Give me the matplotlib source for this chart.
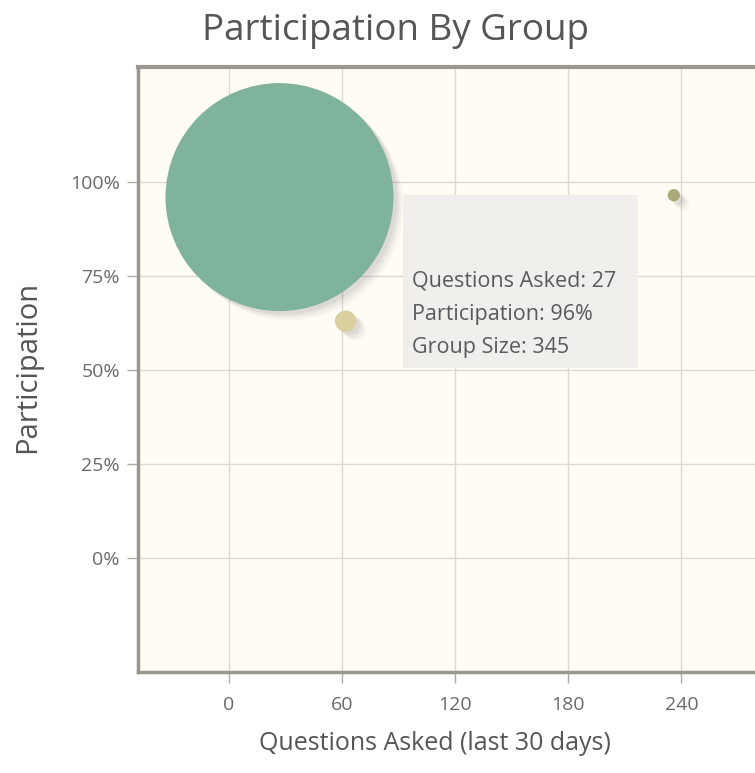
import numpy as np
import matplotlib
matplotlib.use("Agg")
import matplotlib.pyplot as plt

# data
questions = [27, 62, 236]
participation = [96, 63, 96.5]
group_size = [345, 3, 1]
colors = ["#7fb39b", "#d9cf9f", "#a9a97a"]

x_ticks = [0, 60, 120, 180, 240]
y_ticks = [0, 25, 50, 75, 100]

plt.rcParams['font.family'] = ['Open Sans', 'DejaVu Sans']

W, H = 755, 773
fig = plt.figure(figsize=(W / 100, H / 100), dpi=100)
fig.patch.set_facecolor("white")
ax = fig.add_axes([138 / W, 1 - 672 / H, 1 - 138 / W, (672 - 67) / H])
ax.set_facecolor("#fffcf4")

ax.set_xlim(-48, 279)
ax.set_ylim(-30.3, 130.6)
ax.set_xticks(x_ticks)
ax.set_yticks(y_ticks)
ax.set_yticklabels([f"{v}%" for v in y_ticks])
ax.grid(True, color="#dcdad2", linewidth=1)
ax.set_axisbelow(True)
ax.tick_params(axis="both", colors="#b0aca4", labelcolor="#6a6a6a",
               labelsize=14, length=8, width=1)
ax.tick_params(axis="x", pad=9)
ax.tick_params(axis="y", pad=5)

for side in ["top", "left", "bottom"]:
    ax.spines[side].set_color("#9a9690")
    ax.spines[side].set_linewidth(2.5)
ax.spines["top"].set_linewidth(3)
ax.spines["right"].set_visible(False)

# bubble radius in pixels, scaled by area
r_max_px = 114
radii = [r_max_px * np.sqrt(g / max(group_size)) for g in group_size]
sizes = [(2 * r * 0.72) ** 2 for r in radii]

# soft shadow under bubbles
for k, a in zip([9, 7, 5, 3], [0.03, 0.04, 0.06, 0.07]):
    for xi, yi, s in zip(questions, participation, sizes):
        off = ax.transData.transform((xi, yi)) + np.array([k, -k])
        sx, sy = ax.transData.inverted().transform(off)
        ax.scatter(sx, sy, s=s, color="#555555", alpha=a, linewidths=0, zorder=2)

ax.scatter(questions, participation, s=sizes, c=colors, linewidths=0, zorder=3)

# tooltip
tx0, ty1 = 403 / W, 1 - 195 / H
tx1, ty0 = 638 / W, 1 - 368 / H
fig.patches.append(plt.Rectangle((tx0, ty0), tx1 - tx0, ty1 - ty0,
                                 transform=fig.transFigure, facecolor="#f0efeb",
                                 edgecolor="none", alpha=0.94, zorder=5))
tip = ["Questions Asked: 27", "Participation: 96%", "Group Size: 345"]
for i, line in enumerate(tip):
    fig.text(412 / W, 1 - (281 + i * 33) / H, line, fontsize=15.5,
             color="#5a5a5a", va="center", ha="left", zorder=6)

fig.text(396 / W, 1 - 31 / H, "Participation By Group", fontsize=26.5,
         color="#555555", ha="center", va="center")
fig.text(435 / W, 1 - 743 / H, "Questions Asked (last 30 days)", fontsize=18,
         color="#555555", ha="center", va="center")
fig.text(28 / W, 1 - 367 / H, "Participation", fontsize=21, rotation=90,
         color="#555555", ha="center", va="center")

fig.savefig("out.png", dpi=100)
